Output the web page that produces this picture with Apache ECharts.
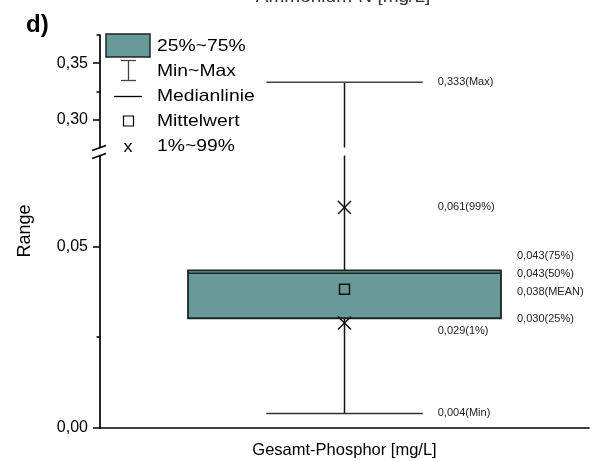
<!DOCTYPE html>
<html>
<head>
<meta charset="utf-8">
<script src="https://cdn.jsdelivr.net/npm/echarts@6/dist/echarts.min.js"></script>
<style>
html,body{margin:0;padding:0;background:#fff;}
#chart{width:597px;height:461px;}
</style>
</head>
<body>
<div id="chart"></div>
<script>
// ---- data ----
const categories = ['Gesamt-Phosphor [mg/L]'];
const minVals = [0.004];
const p1Vals = [0.0289];
const q1Vals = [0.0302];
const medianVals = [0.0426];
const meanVals = [0.0382];
const q3Vals = [0.0434];
const p99Vals = [0.0607];
const maxVals = [0.333];
// axis segments (broken y axis)
const upperRange = [0.275, 0.375];
const lowerRange = [0, 0.075];
const upperMajorTicks = [0.30, 0.35];
const upperMinorTicks = [0.325, 0.375];
const lowerMajorTicks = [0, 0.05];
const lowerMinorTicks = [0.025];

const FONT = 'Liberation Sans, Arial, sans-serif';
const BOX_COLOR = '#699a9a';
const LINE = '#111';

function fmt(v) { return v.toFixed(3).replace('.', ','); }
function fmtTick(v) { return v.toFixed(2).replace('.', ','); }

const boxData = categories.map((c, i) => [i, minVals[i], p1Vals[i], q1Vals[i], medianVals[i], meanVals[i], q3Vals[i], p99Vals[i], maxVals[i]]);

function label(x, y, text) {
  return { type: 'text', x: x, y: y, style: { text: text, font: '11px ' + FONT, fill: '#222', align: 'left', verticalAlign: 'middle', textAlign: 'left', textVerticalAlign: 'middle' } };
}
function line(x1, y1, x2, y2, w, color) {
  return { type: 'line', shape: { x1: x1, y1: y1, x2: x2, y2: y2 }, style: { stroke: color || LINE, lineWidth: w || 1.5 } };
}

function renderLower(params, api) {
  const idx = api.value(0);
  const yOf = v => api.coord([idx, v])[1];
  const cx = api.coord([idx, 0])[0];
  const band = api.size([1, 0])[0];
  const boxW = band * 0.64;
  const capW = boxW / 2;
  const cs = params.coordSys;
  const vMin = api.value(1), vP1 = api.value(2), vQ1 = api.value(3), vMed = api.value(4),
        vMean = api.value(5), vQ3 = api.value(6), vP99 = api.value(7), vMax = api.value(8);
  const top = cs.y;
  const yMaxClip = Math.max(top, yOf(vMax));
  const children = [];
  children.push(line(cx, yOf(vMin), cx, yOf(vQ1), 1.5));
  children.push(line(cx, yOf(vQ3), cx, yMaxClip, 1.5));
  children.push(line(cx - capW / 2, yOf(vMin), cx + capW / 2, yOf(vMin), 1.5, '#333'));
  children.push({ type: 'rect', shape: { x: cx - boxW / 2, y: yOf(vQ3), width: boxW, height: yOf(vQ1) - yOf(vQ3) },
    style: { fill: BOX_COLOR, stroke: '#1a2424', lineWidth: 1.8 } });
  children.push(line(cx - boxW / 2, yOf(vMed), cx + boxW / 2, yOf(vMed), 1.5, '#1a2424'));
  const ym = yOf(vMean);
  children.push({ type: 'rect', shape: { x: cx - 5, y: ym - 5, width: 10, height: 10 }, style: { fill: 'none', stroke: LINE, lineWidth: 1.5 } });
  [vP1, vP99].forEach(v => {
    const y = yOf(v);
    children.push(line(cx - 6.5, y - 6.5, cx + 6.5, y + 6.5, 1.5));
    children.push(line(cx - 6.5, y + 6.5, cx + 6.5, y - 6.5, 1.5));
  });
  const lx = cx + capW / 2 + 15;
  const qx = cx + boxW / 2 + 16;
  children.push(label(lx, yOf(vP99), fmt(vP99) + '(99%)'));
  children.push(label(lx, yOf(vP1) + 8, fmt(vP1) + '(1%)'));
  children.push(label(lx, yOf(vMin), fmt(vMin) + '(Min)'));
  children.push(label(qx, yOf(vQ3) - 14, fmt(vQ3) + '(75%)'));
  children.push(label(qx, yOf(vMed) + 0.5, fmt(vMed) + '(50%)'));
  children.push(label(qx, yOf(vMean) + 3, fmt(vMean) + '(MEAN)'));
  children.push(label(qx, yOf(vQ1) + 1, fmt(vQ1) + '(25%)'));
  return { type: 'group', children: children };
}

function renderUpper(params, api) {
  const idx = api.value(0);
  const yOf = v => api.coord([idx, v])[1];
  const cx = api.coord([idx, 0])[0];
  const band = api.size([1, 0])[0];
  const boxW = band * 0.64;
  const capW = boxW / 2;
  const cs = params.coordSys;
  const vMax = api.value(8);
  const bottom = cs.y + cs.height;
  const y = yOf(vMax);
  return { type: 'group', children: [
    line(cx, bottom, cx, y, 1.5),
    line(cx - capW / 2, y, cx + capW / 2, y, 1.5, '#444'),
    label(cx + capW / 2 + 15, y, fmt(vMax) + '(Max)')
  ] };
}

const axisLineStyle = { color: '#000', width: 1.7 };
const tickStyle = { color: '#000', width: 1.5 };
function legendText(y, text) {
  return { type: 'text', x: 157, y: y, scaleX: 1.17, style: { text: text, font: '16.5px ' + FONT, fill: '#000', verticalAlign: 'middle' } };
}
const chart = echarts.init(document.getElementById('chart'), null, { renderer: 'canvas' });
const option = {
  animation: false,
  backgroundColor: '#fff',
  textStyle: { fontFamily: FONT },
  grid: [
    { left: 100, top: 35, width: 489, height: 112.5 },
    { left: 100, top: 155.5, width: 489, height: 272.5 }
  ],
  xAxis: [
    { gridIndex: 0, type: 'category', data: categories, show: false },
    { gridIndex: 1, type: 'category', data: categories,
      axisLine: { lineStyle: axisLineStyle },
      axisTick: { alignWithLabel: true, length: 7, lineStyle: tickStyle },
      axisLabel: { color: '#000', fontSize: 16.5, fontFamily: FONT, margin: 14 },
      splitLine: { show: false } }
  ],
  yAxis: [
    { gridIndex: 0, type: 'value', position: 'left', min: upperRange[0], max: upperRange[1],
      axisLine: { show: true, lineStyle: axisLineStyle },
      axisTick: { show: true, length: 7, customValues: upperMajorTicks, lineStyle: tickStyle },
      axisLabel: { customValues: upperMajorTicks, formatter: fmtTick, color: '#000', fontSize: 16, fontFamily: FONT, margin: 12 },
      splitLine: { show: false } },
    { gridIndex: 0, type: 'value', position: 'left', offset: 0, min: upperRange[0], max: upperRange[1],
      axisLine: { show: false },
      axisTick: { show: true, length: 3.5, customValues: upperMinorTicks, lineStyle: tickStyle },
      axisLabel: { show: false }, splitLine: { show: false } },
    { gridIndex: 1, type: 'value', position: 'left', min: lowerRange[0], max: lowerRange[1],
      axisLine: { show: true, lineStyle: axisLineStyle },
      axisTick: { show: true, length: 7, customValues: lowerMajorTicks, lineStyle: tickStyle },
      axisLabel: { customValues: lowerMajorTicks, formatter: fmtTick, color: '#000', fontSize: 16, fontFamily: FONT, margin: 12 },
      splitLine: { show: false } },
    { gridIndex: 1, type: 'value', position: 'left', offset: 0, min: lowerRange[0], max: lowerRange[1],
      axisLine: { show: false },
      axisTick: { show: true, length: 3.5, customValues: lowerMinorTicks, lineStyle: tickStyle },
      axisLabel: { show: false }, splitLine: { show: false } }
  ],
  series: [
    { type: 'custom', xAxisIndex: 1, yAxisIndex: 2, data: boxData, renderItem: renderLower, silent: true },
    { type: 'custom', xAxisIndex: 0, yAxisIndex: 0, data: boxData, renderItem: renderUpper, silent: true }
  ],
  graphic: [
    { type: 'text', left: 26, top: 13, style: { text: 'd)', font: 'bold 24px ' + FONT, fill: '#000' } },
    { type: 'text', x: 343, y: 5.5, scaleX: 1.12, style: { text: 'Ammonium-N [mg/L]', font: '17px ' + FONT, fill: '#333', align: 'center', verticalAlign: 'bottom' } },
    { type: 'text', x: 25, y: 231, rotation: Math.PI / 2, style: { text: 'Range', font: '18px ' + FONT, fill: '#000', align: 'center', verticalAlign: 'middle' } },
    { type: 'line', shape: { x1: 92, y1: 150.5, x2: 106, y2: 145.5 }, style: { stroke: '#000', lineWidth: 1.5 } },
    { type: 'line', shape: { x1: 92, y1: 158.5, x2: 106, y2: 153.5 }, style: { stroke: '#000', lineWidth: 1.5 } },
    { type: 'rect', shape: { x: 106, y: 34, width: 44, height: 23 }, style: { fill: BOX_COLOR, stroke: '#1a2424', lineWidth: 1.5 } },
    legendText(46, '25%~75%'),
    { type: 'line', shape: { x1: 121, y1: 60.5, x2: 136, y2: 60.5 }, style: { stroke: '#444', lineWidth: 1.3 } },
    { type: 'line', shape: { x1: 128.5, y1: 60.5, x2: 128.5, y2: 80.5 }, style: { stroke: '#444', lineWidth: 1.3 } },
    { type: 'line', shape: { x1: 121, y1: 80.5, x2: 136, y2: 80.5 }, style: { stroke: '#444', lineWidth: 1.3 } },
    legendText(71, 'Min~Max'),
    { type: 'line', shape: { x1: 114, y1: 96.5, x2: 142, y2: 96.5 }, style: { stroke: '#000', lineWidth: 1.3 } },
    legendText(96, 'Medianlinie'),
    { type: 'rect', shape: { x: 123.5, y: 116, width: 10, height: 10 }, style: { fill: 'none', stroke: '#000', lineWidth: 1.2 } },
    legendText(121, 'Mittelwert'),
    { type: 'text', x: 128, y: 147, scaleX: 1.1, style: { text: 'x', font: '16.5px ' + FONT, fill: '#000', align: 'center', verticalAlign: 'middle' } },
    legendText(146, '1%~99%')
  ]
};
chart.setOption(option);
</script>
</body>
</html>
